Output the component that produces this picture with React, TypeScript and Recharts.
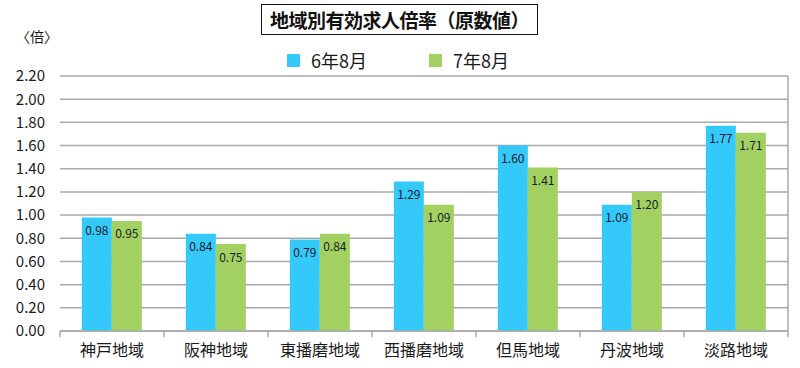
import { BarChart, Bar, XAxis, YAxis, CartesianGrid, LabelList } from 'recharts'

const regions = ['神戸地域', '阪神地域', '東播磨地域', '西播磨地域', '但馬地域', '丹波地域', '淡路地域']
const r6Aug = [0.98, 0.84, 0.79, 1.29, 1.6, 1.09, 1.77]
const r7Aug = [0.95, 0.75, 0.84, 1.09, 1.41, 1.2, 1.71]
const seriesNames = ['6年8月', '7年8月']
const yTicks = [0, 0.2, 0.4, 0.6, 0.8, 1.0, 1.2, 1.4, 1.6, 1.8, 2.0, 2.2]

const data = regions.map((name, i) => ({ name, a: r6Aug[i], b: r7Aug[i] }))

const W = 800
const H = 368
const M = { top: 76, right: 12, left: 0, bottom: 7 }
const Y_W = 60
const BAND = (W - M.left - M.right - Y_W) / regions.length

const FONT = "'Noto Sans CJK JP', 'Noto Sans', sans-serif"
const BLUE = '#35C9FA'
const GREEN = '#A2D162'
const GRID = '#a9a9a9'
const colors = [BLUE, GREEN]

const XTick = ({ x, y, payload, index }: any) => (
  <g>
    <line x1={x - BAND / 2} y1={y} x2={x - BAND / 2} y2={y + 6} stroke={GRID} strokeWidth={1.5} />
    {index === regions.length - 1 && (
      <line x1={x + BAND / 2} y1={y} x2={x + BAND / 2} y2={y + 6} stroke={GRID} strokeWidth={1.5} />
    )}
    <text x={x} y={y + 25} textAnchor="middle" fontSize={16} fill="#1a1a1a" fontFamily={FONT}>
      {payload.value}
    </text>
  </g>
)

const fmt = (v: any) => Number(v).toFixed(2)

export default function App() {
  return (
    <div style={{ position: 'absolute', left: 0, top: 0, width: W, height: H, background: '#fff', fontFamily: FONT }}>
      <div
        style={{
          position: 'absolute',
          left: 261,
          top: 4,
          width: 275,
          height: 29,
          border: '1.5px solid #111',
          display: 'flex',
          alignItems: 'center',
          justifyContent: 'center',
          fontSize: 19,
          fontWeight: 700,
          color: '#111',
          zIndex: 2,
          background: '#fff',
          letterSpacing: -0.5,
        }}
      >
        地域別有効求人倍率（原数値）
      </div>
      <div style={{ position: 'absolute', left: 16, top: 26, fontSize: 14, color: '#1a1a1a', zIndex: 2 }}>〈倍〉</div>
      <div style={{ position: 'absolute', left: 287, top: 47, display: 'flex', gap: 62, fontSize: 18, color: '#1a1a1a', zIndex: 2 }}>
        {seriesNames.map((n, i) => (
          <div key={n} style={{ display: 'flex', alignItems: 'center' }}>
            <span style={{ width: 13, height: 13, background: colors[i], display: 'inline-block', marginRight: 11 }} />
            <span>{n}</span>
          </div>
        ))}
      </div>
      <BarChart width={W} height={H} data={data} margin={M} barCategoryGap="21%" barGap={0}>
        <CartesianGrid
          stroke={GRID}
          strokeWidth={1.5}
          verticalCoordinatesGenerator={({ offset }: any) => [offset.left + offset.width]}
        />
        <XAxis
          dataKey="name"
          height={30}
          axisLine={{ stroke: GRID, strokeWidth: 1.5 }}
          tickLine={false}
          tickSize={0}
          tickMargin={0}
          interval={0}
          tick={<XTick />}
        />
        <YAxis
          domain={[0, 2.2]}
          ticks={yTicks}
          interval={0}
          width={Y_W}
          axisLine={false}
          tickLine={false}
          tickSize={0}
          tickMargin={15}
          tickFormatter={fmt}
          tick={{ fontSize: 15, fill: '#1a1a1a', fontFamily: FONT }}
        />
        <Bar dataKey="a" name={seriesNames[0]} fill={BLUE} isAnimationActive={false}>
          <LabelList dataKey="a" position="insideTop" offset={9} formatter={fmt} style={{ fontSize: 12, fill: '#1a1a2a', fontFamily: FONT }} />
        </Bar>
        <Bar dataKey="b" name={seriesNames[1]} fill={GREEN} isAnimationActive={false}>
          <LabelList dataKey="b" position="insideTop" offset={9} formatter={fmt} style={{ fontSize: 12, fill: '#1a1a2a', fontFamily: FONT }} />
        </Bar>
      </BarChart>
    </div>
  )
}
